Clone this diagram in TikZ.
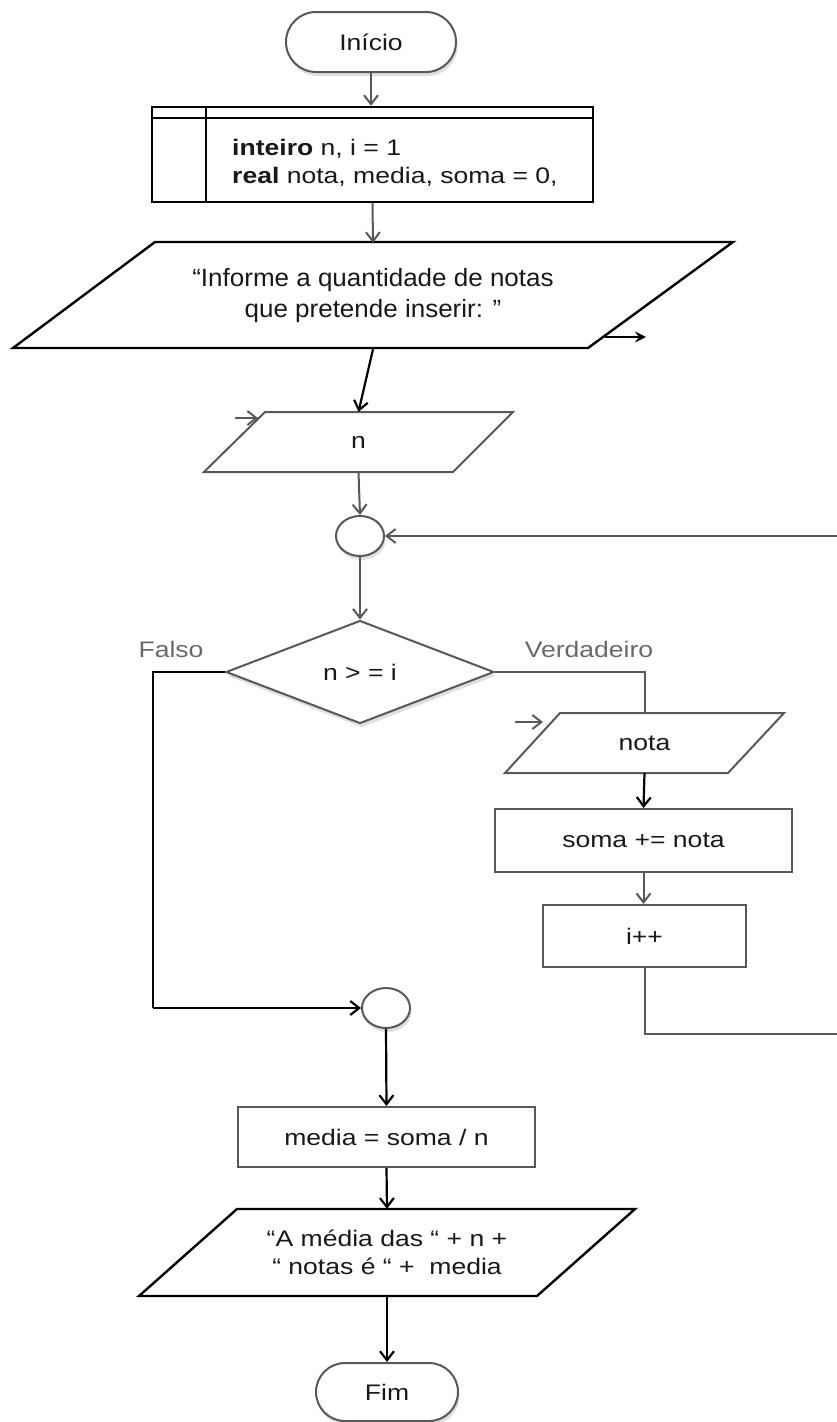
\documentclass[tikz,border=0pt]{standalone}
\usepackage{fontspec}
\setmainfont{Liberation Sans}[FakeStretch=1.18]
\newfontfamily\askfont{Liberation Sans}[FakeStretch=1.04]
\usetikzlibrary{arrows.meta,shapes.geometric,shadows}
\definecolor{gline}{RGB}{88,88,88}
\definecolor{glabel}{RGB}{105,105,105}
\definecolor{txt}{RGB}{25,25,25}
\begin{document}
\begin{tikzpicture}[x=1pt,y=-1pt,
  every node/.style={font=\fontsize{22.5}{28}\selectfont, text=txt},
  gshape/.style={draw=gline, line width=2pt, fill=white},
  kshape/.style={draw=black, line width=2.4pt, fill=white},
  shad/.style={drop shadow={opacity=0.25, shadow xshift=1.5pt, shadow yshift=-4pt}},
  gpath/.style={draw=gline, line width=2pt},
  kpath/.style={draw=black, line width=2.2pt},
  garr/.style={gpath, -{Straight Barb[length=9pt,width=14pt]}},
  karr/.style={kpath, -{Straight Barb[length=9pt,width=14pt]}},
  karrs/.style={kpath, -{Stealth[length=11pt,width=11pt,inset=4pt]}},
  txtbox/.style={inner sep=0, align=center}
]
\useasboundingbox (0,0) rectangle (836,1422);

% start
\node[gshape, shad, rounded corners=30pt, minimum width=170pt, minimum height=60pt, inner sep=0] (start) at (371,42) {Início};

% declaration (internal storage)
\node[kshape, minimum width=441pt, minimum height=95pt, inner sep=0] (decl) at (372.5,154.5) {};
\draw[black, line width=2.4pt] (152,118) -- (593,118);
\draw[black, line width=2.4pt] (206,107) -- (206,202);
\node[anchor=west, align=left, inner sep=0] (decltxt) at (232,163) {\textbf{inteiro} n, i = 1\\\textbf{real} nota, media, soma = 0,};

% output prompt
\draw[kshape] (155,242) -- (733,242) -- (588,348) -- (13,348) -- cycle;
\node[txtbox, minimum height=106pt, font=\askfont\fontsize{25}{31}\selectfont] (ask) at (373,296) {“Informe a quantidade de notas\\que pretende inserir: ”};
\coordinate (outa1) at (605,337);
\coordinate (outa2) at (646,337);

% read n
\draw[gshape] (265,412) -- (513,412) -- (453,472) -- (204,472) -- cycle;
\node[txtbox, minimum height=60pt] (readn) at (358.5,442) {n};
\coordinate (ina1) at (235,418);
\coordinate (ina2) at (258,418);

% connector circle 1
\node[gshape, shad, ellipse, minimum width=48pt, minimum height=40pt, inner sep=0] (c1) at (360,536) {};

% decision
\node[gshape, shad, diamond, minimum width=268pt, minimum height=103pt, inner sep=0] (dec) at (360,672) {n > = i};
\node[text=glabel] (lf) at (171,649) {Falso};
\node[text=glabel] (lv) at (589,649) {Verdadeiro};

% read nota
\draw[gshape] (560,713) -- (784,713) -- (728,773) -- (505,773) -- cycle;
\node[txtbox, minimum height=60pt] (nota) at (644.5,743) {nota};
\coordinate (inb1) at (515,722);
\coordinate (inb2) at (543,722);

% process boxes
\node[gshape, minimum width=297pt, minimum height=63pt, inner sep=0] (soma) at (643.5,840.5) {soma += nota};
\node[gshape, minimum width=203pt, minimum height=62pt, inner sep=0] (inc) at (644.5,936) {i++};

% connector circle 2
\node[gshape, shad, ellipse, minimum width=48pt, minimum height=40pt, inner sep=0] (c2) at (386,1008) {};

\node[gshape, minimum width=297pt, minimum height=60pt, inner sep=0] (media) at (386.5,1137) {media = soma / n};

% final output
\draw[kshape] (237,1209) -- (635,1209) -- (537,1296) -- (139,1296) -- cycle;
\node[txtbox, minimum height=87pt] (out) at (387,1252.5) {“A média das “ + n +\\“ notas é “ + ~media};

% end
\node[gshape, shad, rounded corners=29pt, minimum width=142pt, minimum height=58pt, inner sep=0] (fim) at (387,1392) {Fim};

% helper coordinates
\coordinate (fl) at (153,1008);
\coordinate (lr) at (845,1034);
\coordinate (ur) at (845,536);

% connectors
\draw[garr] (start.south) -- (start.south |- decl.north);
\draw[garr] (decl.south) -- (ask.north);
\draw[karr] (ask.south) -- (readn.north);
\draw[garr] (readn.south) -- (c1.north);
\draw[garr] (c1.south) -- (dec.north);
\draw[kpath] (dec.west) -| (fl);
\draw[karr] (fl) -- (c2.west);
\draw[gpath] (dec.east) -| (nota.north);
\draw[karr] (nota.south) -- (soma.north);
\draw[garr] (soma.south) -- (soma.south |- inc.north);
\draw[gpath] (inc.south) |- (lr) -- (ur);
\draw[garr] (ur) -- (c1.east);
\draw[karr] (c2.south) -- (media.north);
\draw[karr] (media.south) -- (out.north);
\draw[karr] (out.south) -- (fim.north);
\draw[karrs] (outa1) -- (outa2);
\draw[garr] (ina1) -- (ina2);
\draw[garr] (inb1) -- (inb2);
\end{tikzpicture}
\end{document}
